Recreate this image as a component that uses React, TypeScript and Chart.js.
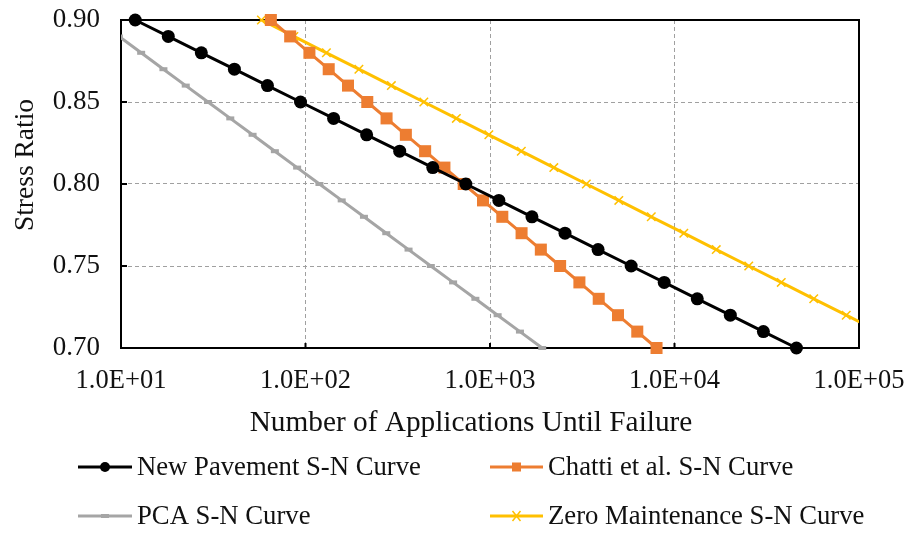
import React, { useEffect, useRef } from "react";
import { Chart, registerables } from "chart.js";

Chart.register(...registerables);

const stressRatio = [0.9, 0.89, 0.88, 0.87, 0.86, 0.85, 0.84, 0.83, 0.82, 0.81, 0.8, 0.79, 0.78, 0.77, 0.76, 0.75, 0.74, 0.73, 0.72, 0.71, 0.7];

const newPavementN = [11.94, 18.04, 27.25, 41.17, 62.2, 93.97, 142.0, 214.5, 324.0, 489.5, 739.6, 1117, 1688, 2550, 3853, 5821, 8794, 13284, 20070, 30320, 45810];
const chattiN = [64.9, 82.6, 105.0, 133.6, 170.0, 216.2, 275.0, 349.9, 445.1, 566.2, 720.2, 916.2, 1166, 1483, 1886, 2399, 3052, 3884, 4940, 6284, 7991];
const pcaN = [7.375, 9.739, 12.86, 16.98, 22.43, 29.62, 39.11, 51.66, 68.23, 90.08, 119.0, 157.1, 207.4, 274.0, 361.8, 477.8, 631.0, 833.2, 1100, 1453, 1919];
const zeroMaintN = [57.68, 86.5, 129.8, 194.7, 292.0, 438.0, 657.0, 985.6, 1478, 2218, 3327, 4990, 7485, 11230, 16840, 25260, 37900, 56840, 85270, 127900, 191900];

const xTickValues = [10, 100, 1000, 10000, 100000];
const yTickValues = [0.7, 0.75, 0.8, 0.85, 0.9];

const seriesNames = ["New Pavement S-N Curve", "Chatti et al. S-N Curve", "PCA S-N Curve", "Zero Maintenance S-N Curve"];
const xTitle = "Number of Applications Until Failure";
const yTitle = "Stress Ratio";

const FONT = "'Liberation Serif', 'Times New Roman', serif";
const BLACK = "#000000";
const ORANGE = "#ED7D31";
const GRAY = "#A5A5A5";
const GOLD = "#FFC000";

function pts(ns: number[]) {
  return ns.map((n, i) => ({ x: n, y: stressRatio[i] }));
}

function fmtExp(v: number) {
  const e = Math.round(Math.log10(v));
  const m = v / Math.pow(10, e);
  const sign = e >= 0 ? "+" : "-";
  const ae = Math.abs(e);
  return m.toFixed(1) + "E" + sign + (ae < 10 ? "0" + ae : String(ae));
}

function drawMarker(ctx: CanvasRenderingContext2D, kind: string, x: number, y: number, color: string) {
  ctx.save();
  ctx.fillStyle = color;
  ctx.strokeStyle = color;
  if (kind === "circle") {
    ctx.beginPath();
    ctx.arc(x, y, 5, 0, Math.PI * 2);
    ctx.fill();
  } else if (kind === "rect") {
    ctx.fillRect(x - 4.5, y - 4.5, 9, 9);
  } else if (kind === "line") {
    ctx.lineWidth = 4;
    ctx.beginPath();
    ctx.moveTo(x - 4, y);
    ctx.lineTo(x + 4, y);
    ctx.stroke();
  } else if (kind === "x") {
    ctx.lineWidth = 1.5;
    ctx.beginPath();
    ctx.moveTo(x - 4, y - 5);
    ctx.lineTo(x + 4, y + 5);
    ctx.moveTo(x - 4, y + 5);
    ctx.lineTo(x + 4, y - 5);
    ctx.stroke();
  }
  ctx.restore();
}

const framePlugin = {
  id: "framePlugin",
  beforeDatasetsDraw(chart: any) {
    const { ctx, chartArea } = chart;
    const { left, right, top, bottom } = chartArea;
    ctx.save();
    ctx.strokeStyle = "#000";
    ctx.lineWidth = 2;
    ctx.strokeRect(left, top, right - left, bottom - top);
    const xs = chart.scales.x;
    const ys = chart.scales.y;
    ctx.beginPath();
    xTickValues.slice(1, -1).forEach((v) => {
      const px = xs.getPixelForValue(v);
      ctx.moveTo(px, bottom);
      ctx.lineTo(px, bottom - 5);
    });
    yTickValues.slice(1, -1).forEach((v) => {
      const py = ys.getPixelForValue(v);
      ctx.moveTo(left, py);
      ctx.lineTo(left + 6, py);
    });
    ctx.stroke();
    ctx.restore();
  },
  afterDraw(chart: any) {
    const { ctx } = chart;
    ctx.save();
    ctx.fillStyle = "#111";
    ctx.font = "29.3px " + FONT;
    ctx.textAlign = "center";
    ctx.textBaseline = "middle";
    ctx.fillText(xTitle, 471, 423);
    ctx.save();
    ctx.translate(26, 165);
    ctx.rotate(-Math.PI / 2);
    ctx.font = "27.5px " + FONT;
    ctx.fillText(yTitle, 0, 0);
    ctx.restore();
    const items = [
      { name: seriesNames[0], color: BLACK, marker: "circle", x0: 78, x1: 132, tx: 137, y: 467 },
      { name: seriesNames[1], color: ORANGE, marker: "rect", x0: 490, x1: 543, tx: 548, y: 467 },
      { name: seriesNames[2], color: GRAY, marker: "line", x0: 78, x1: 132, tx: 137, y: 516 },
      { name: seriesNames[3], color: GOLD, marker: "x", x0: 490, x1: 543, tx: 548, y: 516 },
    ];
    items.forEach((it) => {
      ctx.save();
      ctx.strokeStyle = it.color;
      ctx.lineWidth = 3;
      ctx.beginPath();
      ctx.moveTo(it.x0, it.y);
      ctx.lineTo(it.x1, it.y);
      ctx.stroke();
      ctx.restore();
      drawMarker(ctx, it.marker, (it.x0 + it.x1) / 2, it.y, it.color);
      ctx.fillStyle = "#111";
      ctx.font = "26.7px " + FONT;
      ctx.textAlign = "left";
      ctx.textBaseline = "middle";
      ctx.fillText(it.name, it.tx, it.y + 1);
    });
    ctx.restore();
  },
};

export default function App() {
  const canvasRef = useRef<HTMLCanvasElement | null>(null);

  useEffect(() => {
    const canvas = canvasRef.current;
    if (!canvas) return;
    const chart = new Chart(canvas, {
      type: "scatter",
      data: {
        datasets: [
          {
            label: seriesNames[0],
            data: pts(newPavementN),
            showLine: true,
            borderColor: BLACK,
            backgroundColor: BLACK,
            borderWidth: 3,
            pointRadius: 6.5,
            pointStyle: "circle",
            pointBorderWidth: 0,
            clip: false,
          },
          {
            label: seriesNames[1],
            data: pts(chattiN),
            showLine: true,
            borderColor: ORANGE,
            backgroundColor: ORANGE,
            borderWidth: 3,
            pointRadius: 8.5,
            pointStyle: "rect",
            pointBorderWidth: 0,
            clip: false,
          },
          {
            label: seriesNames[2],
            data: pts(pcaN),
            showLine: true,
            borderColor: GRAY,
            backgroundColor: GRAY,
            borderWidth: 3,
            pointRadius: 4,
            pointStyle: "line",
            pointBorderWidth: 4,
            pointBorderColor: GRAY,
            clip: { left: 0, top: 10, right: 10, bottom: 10 },
          },
          {
            label: seriesNames[3],
            data: pts(zeroMaintN),
            showLine: true,
            borderColor: GOLD,
            backgroundColor: GOLD,
            borderWidth: 3,
            pointRadius: 6,
            pointStyle: "crossRot",
            pointBorderWidth: 1.5,
            pointBorderColor: GOLD,
            clip: { left: 10, top: 10, right: 0, bottom: 10 },
          },
        ],
      } as any,
      options: {
        responsive: false,
        animation: false,
        layout: { padding: { left: 0, right: 50, top: 20, bottom: 128 } },
        plugins: {
          legend: { display: false },
          tooltip: { enabled: false },
          title: { display: false },
        },
        scales: {
          x: {
            type: "logarithmic",
            min: 10,
            max: 100000,
            afterBuildTicks: (scale: any) => {
              scale.ticks = xTickValues.map((v) => ({ value: v }));
            },
            afterFit: (scale: any) => {
              scale.height = 60;
              scale.paddingLeft = 0;
              scale.paddingRight = 0;
            },
            ticks: {
              autoSkip: false,
              maxRotation: 0,
              padding: 17,
              color: "#111",
              font: { family: FONT, size: 26.5 },
              callback: (v: any) => fmtExp(Number(v)),
            },
            grid: { color: "#A0A0A0", lineWidth: 1, drawTicks: false },
            border: { display: false, dash: [4, 3] },
          },
          y: {
            type: "linear",
            min: 0.7,
            max: 0.9,
            afterBuildTicks: (scale: any) => {
              scale.ticks = yTickValues.map((v) => ({ value: v }));
            },
            afterFit: (scale: any) => {
              scale.width = 121;
              scale.paddingTop = 0;
              scale.paddingBottom = 0;
            },
            ticks: {
              padding: 21,
              color: "#111",
              font: { family: FONT, size: 27 },
              callback: (v: any) => Number(v).toFixed(2),
            },
            grid: { color: "#A0A0A0", lineWidth: 1, drawTicks: false },
            border: { display: false, dash: [4, 3] },
          },
        },
      } as any,
      plugins: [framePlugin],
    });
    return () => chart.destroy();
  }, []);

  return (
    <div style={{ position: "fixed", left: 0, top: 0, width: 909, height: 536, background: "#fff" }}>
      <canvas ref={canvasRef} width={909} height={536} style={{ display: "block", width: 909, height: 536 }} />
    </div>
  );
}
